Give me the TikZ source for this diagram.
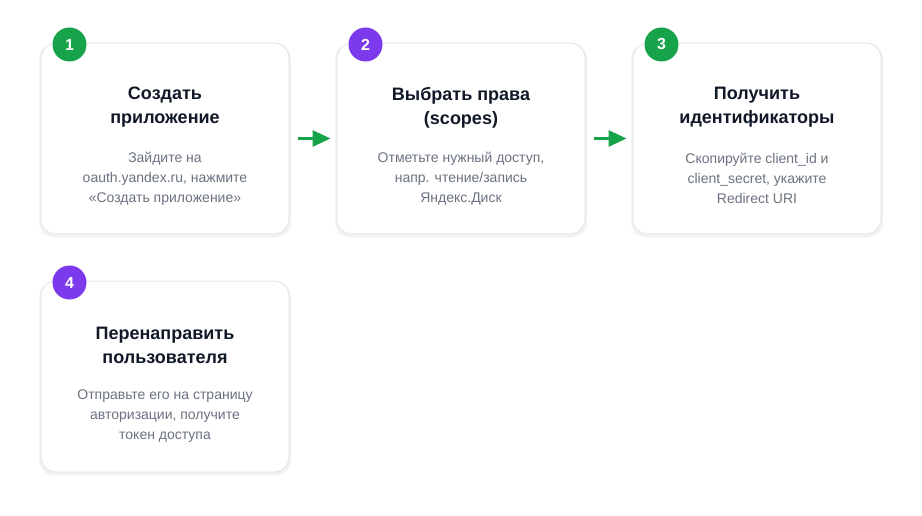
\documentclass[tikz,border=0pt]{standalone}
\usepackage{fontspec}
\setmainfont{Liberation Sans}
\usetikzlibrary{arrows.meta,positioning,shadows}
\definecolor{cardline}{HTML}{E5E7EB}
\definecolor{titlecol}{HTML}{111827}
\definecolor{desccol}{HTML}{6B7280}
\definecolor{stepgreen}{HTML}{16A34A}
\definecolor{steppurple}{HTML}{7C3AED}

\begin{document}
\begin{tikzpicture}[x=1pt,y=-1pt,
		card/.style={draw=cardline, line width=1pt, fill=white, rounded corners=15pt,
			minimum width=248pt, minimum height=191pt, inner sep=0pt,
			drop shadow={shadow xshift=0pt, shadow yshift=-2pt, shadow scale=1.015, opacity=0.05, fill=black}},
		badge/.style={circle, minimum size=34pt, inner sep=0pt, text=white,
			font=\bfseries\fontsize{16}{16}\selectfont},
		steptitle/.style={text=titlecol, font=\bfseries\fontsize{18}{24}\selectfont, align=center},
		stepdesc/.style={text=desccol, font=\fontsize{14}{20}\selectfont, align=center},
		flow/.style={-{Triangle[length=18pt,width=16pt]}, line width=3pt, draw=stepgreen,
			shorten <=8pt, shorten >=6pt}]
		% Canvas
		\fill[white] (0,0) rectangle (922,516);
		\useasboundingbox (0,0) rectangle (922,516);
		
		% Cards
		\node[card] (c1) at (165,138.5) {};
		\node[card] (c2) at (461,138.5) {};
		\node[card] (c3) at (757,138.5) {};
		\node[card] (c4) at (165,376.5) {};
		
		% Badges
		\node[badge, fill=stepgreen] (b1) at ([xshift=29pt,yshift=-2pt]c1.north west) {1};
		\node[badge, fill=steppurple] (b2) at ([xshift=29pt,yshift=-2pt]c2.north west) {2};
		\node[badge, fill=stepgreen] (b3) at ([xshift=29pt,yshift=-2pt]c3.north west) {3};
		\node[badge, fill=steppurple] (b4) at ([xshift=29pt,yshift=-2pt]c4.north west) {4};
		
		% Titles
		\node[steptitle] (t1) at ([yshift=-65pt]c1.north) {Создать\\приложение};
		\node[steptitle] (t2) at ([yshift=-65pt]c2.north) {Выбрать права\\(scopes)};
		\node[steptitle] (t3) at ([yshift=-65pt]c3.north) {Получить\\идентификаторы};
		\node[steptitle] (t4) at ([yshift=-65pt]c4.north) {Перенаправить\\пользователя};
		
		% Descriptions
		\node[stepdesc] (d1) at ([yshift=-136pt]c1.north) {Зайдите на\\oauth.yandex.ru, нажмите\\«Создать приложение»};
		\node[stepdesc] (d2) at ([yshift=-136pt]c2.north) {Отметьте нужный доступ,\\напр. чтение/запись\\Яндекс.Диск};
		\node[stepdesc] (d3) at ([yshift=-136pt]c3.north) {Скопируйте client\_id и\\client\_secret, укажите\\Redirect URI};
		\node[stepdesc] (d4) at ([yshift=-136pt]c4.north) {Отправьте его на страницу\\авторизации, получите\\токен доступа};
		
		% Arrows
		\draw[flow] (c1) -- (c2);
		\draw[flow] (c2) -- (c3);
\end{tikzpicture}
\end{document}
